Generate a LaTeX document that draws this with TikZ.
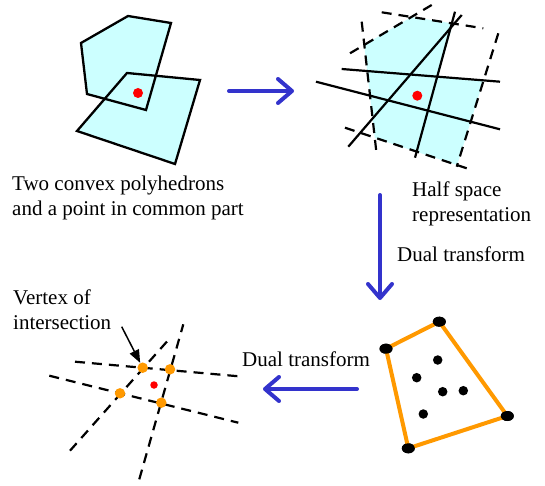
\documentclass[tikz,border=0pt]{standalone}
\usepackage{fontspec}
\setmainfont{Liberation Serif}
\usetikzlibrary{arrows.meta,positioning,shapes.geometric}
\definecolor{PolyFill}{HTML}{CCFFFF}
\definecolor{DualBlue}{HTML}{3333CC}
\definecolor{HullOrange}{HTML}{FF9900}
\definecolor{PointRed}{HTML}{FF0000}

\tikzset{
  outline/.style={draw=black,line width=2.3pt},
  halfline/.style={black,line width=2.2pt},
  dashline/.style={black,line width=2.2pt,dash pattern=on 10pt off 7pt},
  bigarrow/.style={DualBlue,line width=4pt,line cap=round,-{Straight Barb[round,length=14pt,width=24pt]}},
  caption/.style={font=\fontsize{21}{25}\selectfont,inner sep=0pt,align=left},
  reddot/.style={circle,fill=PointRed,inner sep=0pt,minimum size=#1},
  crossdot/.style={circle,fill=HullOrange,inner sep=0pt,minimum size=10.5pt},
  hulldot/.style={ellipse,fill=black,inner sep=0pt,minimum width=13pt,minimum height=10pt},
  innerdot/.style={circle,fill=black,inner sep=0pt,minimum size=9.5pt},
}

\begin{document}
\begin{tikzpicture}[x=1pt,y=-1pt]
  \useasboundingbox (0,0) rectangle (545,486);
  % two convex polyhedrons
  \fill[PolyFill] (81,43) -- (128,16) -- (171,23) -- (146,110) -- (87,94) -- cycle;
  \fill[PolyFill] (127,73) -- (200,80) -- (175,164) -- (77,131) -- cycle;
  \draw[outline] (81,43) -- (128,16) -- (171,23) -- (146,110) -- (87,94) -- cycle;
  \draw[outline] (127,73) -- (200,80) -- (175,164) -- (77,131) -- cycle;
  \node[reddot=10pt] (p1) at (138,93) {};
  \node[caption,anchor=base west] (twopoly) at (12,215) {Two convex polyhedrons\\and a point in common part};

  % half space representation
  \fill[PolyFill] (364.2,44.9) -- (411.5,17) -- (453.1,23.5) -- (438,76.7) -- (483.5,80.3)
    -- (457.2,165.1) -- (374.8,138.1) -- cycle;
  \draw[dashline] (350,53.3) -- (431.7,5);
  \draw[dashline] (381.7,12.3) -- (483.3,28.3);
  \draw[dashline] (498.3,33.3) -- (456.7,166.7);
  \draw[dashline] (345,127.7) -- (466.7,168.3);
  \draw[dashline] (361.7,21.7) -- (376.7,155);
  \draw[halfline] (341.7,69) -- (500,81.7);
  \draw[halfline] (316,81.7) -- (500,129.3);
  \draw[halfline] (348.3,146.7) -- (461.7,15);
  \draw[halfline] (415,157.7) -- (455,11.7);
  \node[reddot=10pt] (p2) at (417.3,95.7) {};
  \node[caption,anchor=base west] (halfspace) at (412,222) {Half space\\representation};

  % dual: points and hull
  \node[hulldot] (h1) at (386,348.7) {};
  \node[hulldot] (h2) at (439.3,321.7) {};
  \node[hulldot] (h3) at (507.3,416) {};
  \node[hulldot] (h4) at (408.3,448.3) {};
  \draw[HullOrange,line width=4pt,line join=round] (h1.center) -- (h2.center) -- (h3.center) -- (h4.center) -- cycle;
  \foreach \n in {1,...,4} \node[hulldot] at (h\n) {};
  \foreach \x/\y in {437.7/360,416.7/377.7,442.7/391.7,463.3/390.7,423.3/414}
    \node[innerdot] at (\x,\y) {};

  % dual of hull: vertex of intersection
  \draw[dashline] (75,361.7) -- (243.3,376.7);
  \draw[dashline] (49.3,375.7) -- (238.3,422.7);
  \draw[dashline] (70,450.7) -- (168.3,340);
  \draw[dashline] (139.3,479.3) -- (183.3,324.3);
  \node[crossdot] (v1) at (142.7,367.7) {};
  \node[crossdot] (v2) at (170,369.3) {};
  \node[crossdot] (v3) at (120,393.3) {};
  \node[crossdot] (v4) at (161.3,402.7) {};
  \node[reddot=7.5pt] (p3) at (154,385) {};
  \node[caption,anchor=base west] (vertexlab) at (13,329) {Vertex of\\intersection};
  \coordinate (vtail) at (121.7,326.7);
  \draw[line width=1.5pt,-{Triangle[length=13pt,width=10pt]}] (vtail) -- (v1);

  % transform arrows
  \coordinate (a1) at (229,91);
  \coordinate (a2) at (294,91);
  \draw[bigarrow] (a1) -- (a2);
  \coordinate (b1) at (380,195);
  \coordinate (b2) at (380,300);
  \draw[bigarrow] (b1) -- (b2);
  \node[caption,anchor=base west] (dualright) at (397,261) {Dual transform};
  \coordinate (c1) at (357,389);
  \coordinate (c2) at (263,389);
  \draw[bigarrow] (c1) -- (c2);
  \node[caption,anchor=base west] (dualleft) at (242,366) {Dual transform};
\end{tikzpicture}
\end{document}
